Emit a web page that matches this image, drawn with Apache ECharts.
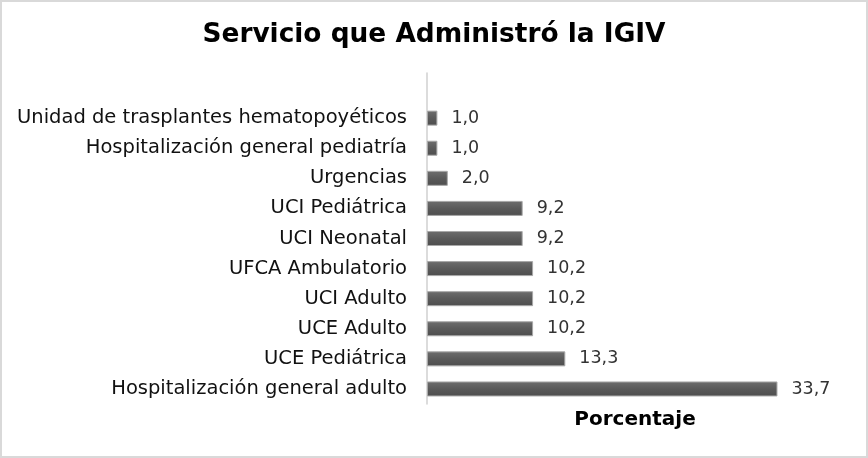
<!DOCTYPE html>
<html>
<head>
<meta charset="utf-8">
<style>
html, body { margin: 0; padding: 0; background: #fff; }
#chart { width: 868px; height: 458px; }
</style>
<script src="https://cdn.jsdelivr.net/npm/echarts@6/dist/echarts.min.js"></script>
</head>
<body>
<div id="chart"></div>
<script>
// datos (de abajo hacia arriba); la categoría vacía deja el hueco de arriba
var servicios = ['Hospitalización general adulto', 'UCE Pediátrica', 'UCE Adulto', 'UCI Adulto',
  'UFCA Ambulatorio', 'UCI Neonatal', 'UCI Pediátrica', 'Urgencias',
  'Hospitalización general pediatría', 'Unidad de trasplantes hematopoyéticos', ''];
var porcentajes = [33.7, 13.3, 10.2, 10.2, 10.2, 9.2, 9.2, 2.0, 1.0, 1.0, null];

var fuente = 'Verdana, "DejaVu Sans", sans-serif';
var myChart = echarts.init(document.getElementById('chart'));

var option = {
  animation: false,
  title: {
    text: 'Servicio que Administró la IGIV',
    left: 'center',
    top: 17,
    textStyle: { fontFamily: fuente, fontSize: 26.4, fontWeight: 'bold', color: '#000' }
  },
  grid: { left: 427, right: 25, top: 73, bottom: 54 },
  xAxis: {
    type: 'value',
    min: 0,
    max: 40,
    name: 'Porcentaje',
    nameLocation: 'middle',
    nameGap: 6,
    nameTextStyle: {
      fontFamily: fuente, fontSize: 20, fontWeight: 'bold', color: '#000',
      verticalAlign: 'top'
    },
    axisLine: { show: false },
    axisTick: { show: false },
    axisLabel: { show: false },
    splitLine: { show: false }
  },
  yAxis: {
    type: 'category',
    data: servicios,
    axisLine: { show: true, lineStyle: { color: '#d0d0d0', width: 1.5 } },
    axisTick: { show: false },
    axisLabel: { margin: 20, fontFamily: fuente, fontSize: 19.5, color: '#111' }
  },
  series: [{
    type: 'bar',
    data: porcentajes,
    barWidth: 15,
    itemStyle: {
      color: new echarts.graphic.LinearGradient(0, 0, 0, 1, [
        { offset: 0, color: '#6e6e6e' },
        { offset: 0.5, color: '#5a5a5a' },
        { offset: 1, color: '#4e4e4e' }
      ]),
      borderColor: '#a8a8a8',
      borderWidth: 1
    },
    label: {
      show: true,
      position: 'right',
      distance: 14,
      fontFamily: fuente,
      fontSize: 17.5,
      color: '#333',
      formatter: function (p) { return p.value.toFixed(1).replace('.', ','); }
    }
  }],
  graphic: [{
    type: 'rect',
    shape: { x: 1, y: 1, width: 866, height: 456 },
    style: { fill: 'none', stroke: '#d9d9d9', lineWidth: 2 },
    silent: true
  }]
};
myChart.setOption(option);
</script>
</body>
</html>
